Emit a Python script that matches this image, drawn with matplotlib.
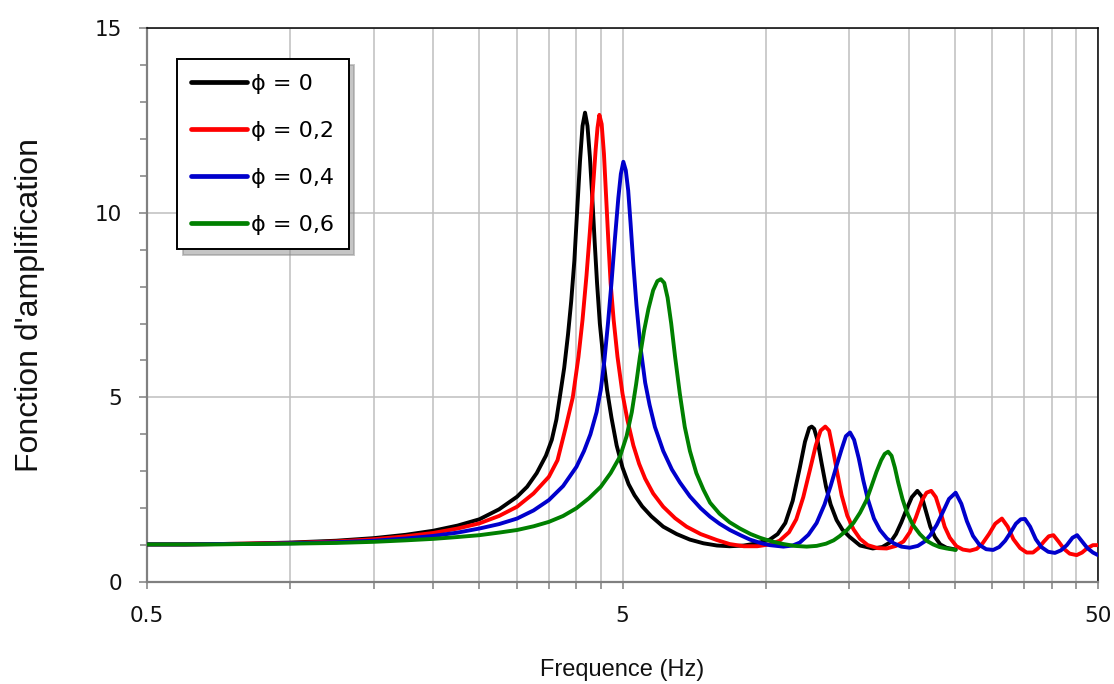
import matplotlib
matplotlib.use("Agg")
import matplotlib.pyplot as plt
from matplotlib.ticker import FixedLocator, FixedFormatter, NullFormatter

# values (frequency in Hz, amplification)
f_phi0 = [0.5, 0.6, 0.7, 0.8, 1.0, 1.25, 1.5, 1.75, 2.0, 2.25, 2.5, 2.75, 3.0, 3.15, 3.3,
          3.45, 3.55, 3.63, 3.7, 3.77, 3.84, 3.9, 3.96, 4.02, 4.07, 4.12, 4.17, 4.22, 4.27,
          4.32, 4.37, 4.42, 4.48, 4.56, 4.64, 4.74, 4.86, 5.0, 5.15, 5.3, 5.5, 5.75, 6.09,
          6.5, 6.93, 7.4, 7.9, 8.4, 9.0, 9.6, 10.2, 10.6, 11.0, 11.4, 11.8, 12.1, 12.35,
          12.5, 12.65, 12.85, 13.1, 13.4, 13.7, 14.1, 14.5, 15.0, 15.8, 16.8, 17.6, 18.3,
          18.8, 19.3, 19.8, 20.3, 20.85, 21.3, 21.7, 22.2, 22.7, 23.3, 24.0, 25.1]
a_phi0 = [1.02, 1.02, 1.03, 1.04, 1.07, 1.12, 1.19, 1.28, 1.39, 1.53, 1.70, 1.97, 2.31, 2.58, 2.95,
          3.42, 3.85, 4.4, 5.1, 5.8, 6.7, 7.6, 8.7, 10.2, 11.4, 12.35, 12.71, 12.35, 11.5,
          10.4, 9.2, 8.1, 7.0, 6.0, 5.2, 4.45, 3.7, 3.1, 2.65, 2.35, 2.05, 1.78, 1.50,
          1.30, 1.15, 1.05, 0.99, 0.97, 0.99, 1.05, 1.15, 1.3, 1.6, 2.2, 3.1, 3.8, 4.17,
          4.21, 4.15, 3.85, 3.25, 2.58, 2.1, 1.68, 1.42, 1.23, 0.99, 0.91, 0.95, 1.08,
          1.3, 1.62, 1.98, 2.3, 2.47, 2.32, 1.95, 1.5, 1.22, 1.02, 0.93, 0.88]

f_phi2 = [0.5, 0.6, 0.7, 0.8, 1.0, 1.25, 1.5, 1.75, 2.0, 2.25, 2.5, 2.75, 3.0, 3.25, 3.5,
          3.65, 3.8, 3.93, 4.04, 4.12, 4.2, 4.27, 4.33, 4.39, 4.43, 4.47, 4.52, 4.57, 4.62,
          4.67, 4.72, 4.79, 4.88, 5.0, 5.12, 5.27, 5.42, 5.58, 5.8, 6.09, 6.45, 6.82, 7.3,
          7.89, 8.4, 9.0, 9.6, 10.2, 10.7, 11.2, 11.6, 12.0, 12.4, 12.75, 13.05, 13.35, 13.6,
          13.85, 14.15, 14.45, 14.85, 15.3, 15.8, 16.4, 17.2, 17.97, 18.8, 19.5, 20.1, 20.7,
          21.3, 21.8, 22.3, 22.8, 23.3, 23.8, 24.4, 25.2, 26.0, 26.9, 27.8, 28.6, 29.5, 30.4,
          31.4, 32.3, 33.2, 34.3, 35.4, 36.5, 37.5, 38.5, 39.4, 40.3, 41.3, 42.4, 43.6, 45.1,
          46.3, 47.5, 48.8, 50.0]
a_phi2 = [1.02, 1.02, 1.03, 1.04, 1.06, 1.10, 1.16, 1.24, 1.33, 1.45, 1.59, 1.79, 2.04, 2.4, 2.85,
          3.3, 4.2, 5.0, 6.1, 7.1, 8.3, 9.5, 10.6, 11.7, 12.3, 12.65, 12.4, 11.6, 10.4,
          9.2, 8.1, 7.1, 6.1, 5.1, 4.39, 3.7, 3.2, 2.8, 2.4, 2.04, 1.73, 1.50, 1.30,
          1.14, 1.03, 0.97, 0.97, 1.02, 1.12, 1.35, 1.7, 2.3, 3.05, 3.7, 4.1, 4.21, 4.1,
          3.6, 2.95, 2.35, 1.8, 1.43, 1.17, 1.0, 0.92, 0.91, 0.98, 1.1, 1.35, 1.75,
          2.2, 2.42, 2.47, 2.3, 1.92, 1.5, 1.2, 0.97, 0.88, 0.85, 0.9, 1.05, 1.3, 1.58,
          1.72, 1.5, 1.16, 0.92, 0.8, 0.8, 0.92, 1.1, 1.24, 1.27, 1.1, 0.9, 0.77, 0.73,
          0.8, 0.92, 1.0, 1.0]

f_phi4 = [0.5, 0.6, 0.7, 0.8, 1.0, 1.25, 1.5, 1.75, 2.0, 2.25, 2.5, 2.75, 3.0, 3.25, 3.5,
          3.75, 4.0, 4.15, 4.28, 4.41, 4.5, 4.58, 4.66, 4.74, 4.82, 4.9, 4.96, 5.02, 5.08,
          5.14, 5.2, 5.27, 5.35, 5.45, 5.58, 5.7, 5.85, 6.09, 6.35, 6.6, 6.93, 7.3, 7.64,
          8.0, 8.41, 8.85, 9.27, 9.75, 10.2, 10.9, 11.4, 11.8, 12.3, 12.8, 13.3, 13.7, 14.1,
          14.45, 14.75, 15.05, 15.35, 15.7, 16.05, 16.4, 16.9, 17.4, 18.0, 18.6, 19.3, 20.1,
          20.9, 21.6, 22.2, 22.9, 23.6, 24.3, 25.1, 25.8, 26.5, 27.3, 28.2, 29.1, 30.1, 31.0,
          31.9, 32.7, 33.6, 34.4, 35.1, 36.0, 37.0, 38.0, 39.3, 40.6, 41.8, 43.0, 44.2, 45.2,
          46.3, 47.5, 48.8, 50.0]
a_phi4 = [1.02, 1.02, 1.03, 1.03, 1.05, 1.08, 1.12, 1.18, 1.25, 1.34, 1.45, 1.57, 1.72, 1.94, 2.22,
          2.6, 3.12, 3.55, 4.0, 4.6, 5.2, 6.0, 7.0, 8.1, 9.3, 10.4, 11.05, 11.38, 11.15,
          10.6, 9.7, 8.6, 7.5, 6.4, 5.4, 4.8, 4.2, 3.55, 3.05, 2.7, 2.32, 2.0, 1.77,
          1.58, 1.41, 1.27, 1.15, 1.06, 1.0, 0.96, 0.99, 1.07, 1.28, 1.6, 2.1, 2.6, 3.15,
          3.6, 3.95, 4.05, 3.85, 3.35, 2.75, 2.25, 1.72, 1.41, 1.18, 1.05, 0.96, 0.93,
          0.98, 1.1, 1.27, 1.55, 1.9, 2.25, 2.42, 2.12, 1.65, 1.25, 1.0, 0.89, 0.87, 0.95,
          1.12, 1.33, 1.58, 1.7, 1.71, 1.5, 1.16, 0.95, 0.82, 0.79, 0.86, 1.0, 1.2, 1.27,
          1.1, 0.92, 0.8, 0.73]

f_phi6 = [0.5, 0.6, 0.7, 0.8, 1.0, 1.25, 1.5, 1.75, 2.0, 2.25, 2.5, 2.75, 3.0, 3.25, 3.5,
          3.75, 4.0, 4.25, 4.5, 4.72, 4.94, 5.1, 5.23, 5.34, 5.44, 5.55, 5.67, 5.8, 5.92,
          6.02, 6.12, 6.22, 6.33, 6.45, 6.6, 6.76, 6.93, 7.15, 7.4, 7.64, 8.0, 8.4, 8.83,
          9.3, 9.73, 10.3, 10.9, 11.5, 12.2, 12.8, 13.4, 13.9, 14.3, 14.8, 15.3, 15.8, 16.3,
          16.7, 17.1, 17.5, 17.8, 18.1, 18.4, 18.7, 19.0, 19.4, 19.8, 20.4, 21.1, 21.8, 22.5,
          23.2, 24.0, 25.1]
a_phi6 = [1.02, 1.02, 1.02, 1.03, 1.04, 1.06, 1.09, 1.13, 1.17, 1.22, 1.27, 1.34, 1.41, 1.51, 1.63,
          1.79, 2.0, 2.27, 2.58, 2.95, 3.4, 3.95, 4.6, 5.35, 6.1, 6.8, 7.4, 7.9, 8.15,
          8.2, 8.1, 7.7, 7.0, 6.1, 5.1, 4.2, 3.55, 2.95, 2.5, 2.15, 1.85, 1.62, 1.45,
          1.3, 1.2, 1.1, 1.03, 0.98, 0.96, 0.98, 1.04, 1.13, 1.24, 1.4, 1.6, 1.88, 2.22,
          2.6, 2.98, 3.3, 3.47, 3.53, 3.42, 3.1, 2.7, 2.25, 1.9, 1.55, 1.3, 1.12, 1.02,
          0.95, 0.91, 0.87]

labels = ["\u03d5 = 0", "\u03d5 = 0,2", "\u03d5 = 0,4", "\u03d5 = 0,6"]
colors = ["#000000", "#FF0000", "#0000CC", "#008000"]

x_major = [0.5, 5, 50]
x_major_labels = ["0.5", "5", "50"]
x_minor = [1, 1.5, 2, 2.5, 3, 3.5, 4, 4.5, 10, 15, 20, 25, 30, 35, 40, 45]
y_major = [0, 5, 10, 15]
y_minor = [1, 2, 3, 4, 6, 7, 8, 9, 11, 12, 13, 14]

fig = plt.figure(figsize=(11.14, 6.84), dpi=100)
ax = fig.add_axes([0.132, 0.149, 0.8536, 0.810])

series = [(f_phi0, a_phi0), (f_phi2, a_phi2), (f_phi4, a_phi4), (f_phi6, a_phi6)]
for (fx, ay), lab, col in zip(series, labels, colors):
    ax.plot(fx, ay, color=col, lw=2.8, label=lab, solid_joinstyle="round",
            solid_capstyle="round", zorder=3)

ax.set_xscale("log")
ax.set_xlim(0.5, 50)
ax.set_ylim(0, 15)

ax.xaxis.set_major_locator(FixedLocator(x_major))
ax.xaxis.set_major_formatter(FixedFormatter(x_major_labels))
ax.xaxis.set_minor_locator(FixedLocator(x_minor))
ax.xaxis.set_minor_formatter(NullFormatter())
ax.yaxis.set_major_locator(FixedLocator(y_major))
ax.yaxis.set_minor_locator(FixedLocator(y_minor))

grid_col = "#BFBFBF"
ax.grid(True, which="major", axis="both", color=grid_col, lw=1.1, zorder=0)
ax.grid(True, which="minor", axis="x", color=grid_col, lw=1.1, zorder=0)
ax.set_axisbelow(True)

for side in ["left", "bottom"]:
    ax.spines[side].set_color("#808080")
    ax.spines[side].set_linewidth(1.6)
for side in ["top", "right"]:
    ax.spines[side].set_color("black")
    ax.spines[side].set_linewidth(1.1)

ax.tick_params(axis="both", which="both", direction="out", color="#808080", width=1.1,
               labelsize=15.5, labelcolor="#111111")
ax.tick_params(axis="y", which="major", length=6, pad=12)
ax.tick_params(axis="y", which="minor", length=5)
ax.tick_params(axis="x", which="both", length=5, pad=12)

narrow = ["Liberation Sans Narrow", "Liberation Sans", "DejaVu Sans"]
ax.set_xlabel("Frequence (Hz)", fontsize=17, family=narrow, labelpad=24, color="#111111")
ax.set_ylabel("Fonction d'amplification", fontsize=23, family=["Liberation Sans", "DejaVu Sans"],
              labelpad=36, color="#111111")

leg = ax.legend(loc="upper left", bbox_to_anchor=(0.0315, 0.944), borderaxespad=0,
                fontsize=16, frameon=True, fancybox=False, edgecolor="black",
                handlelength=2.5, handletextpad=0.2, labelspacing=1.22, borderpad=0.65,
                shadow={"ox": 4, "oy": -4, "color": "0.55", "alpha": 0.5})
leg.get_frame().set_linewidth(1.4)
for line in leg.get_lines():
    line.set_linewidth(3.4)

fig.savefig("out.png", dpi=100)
